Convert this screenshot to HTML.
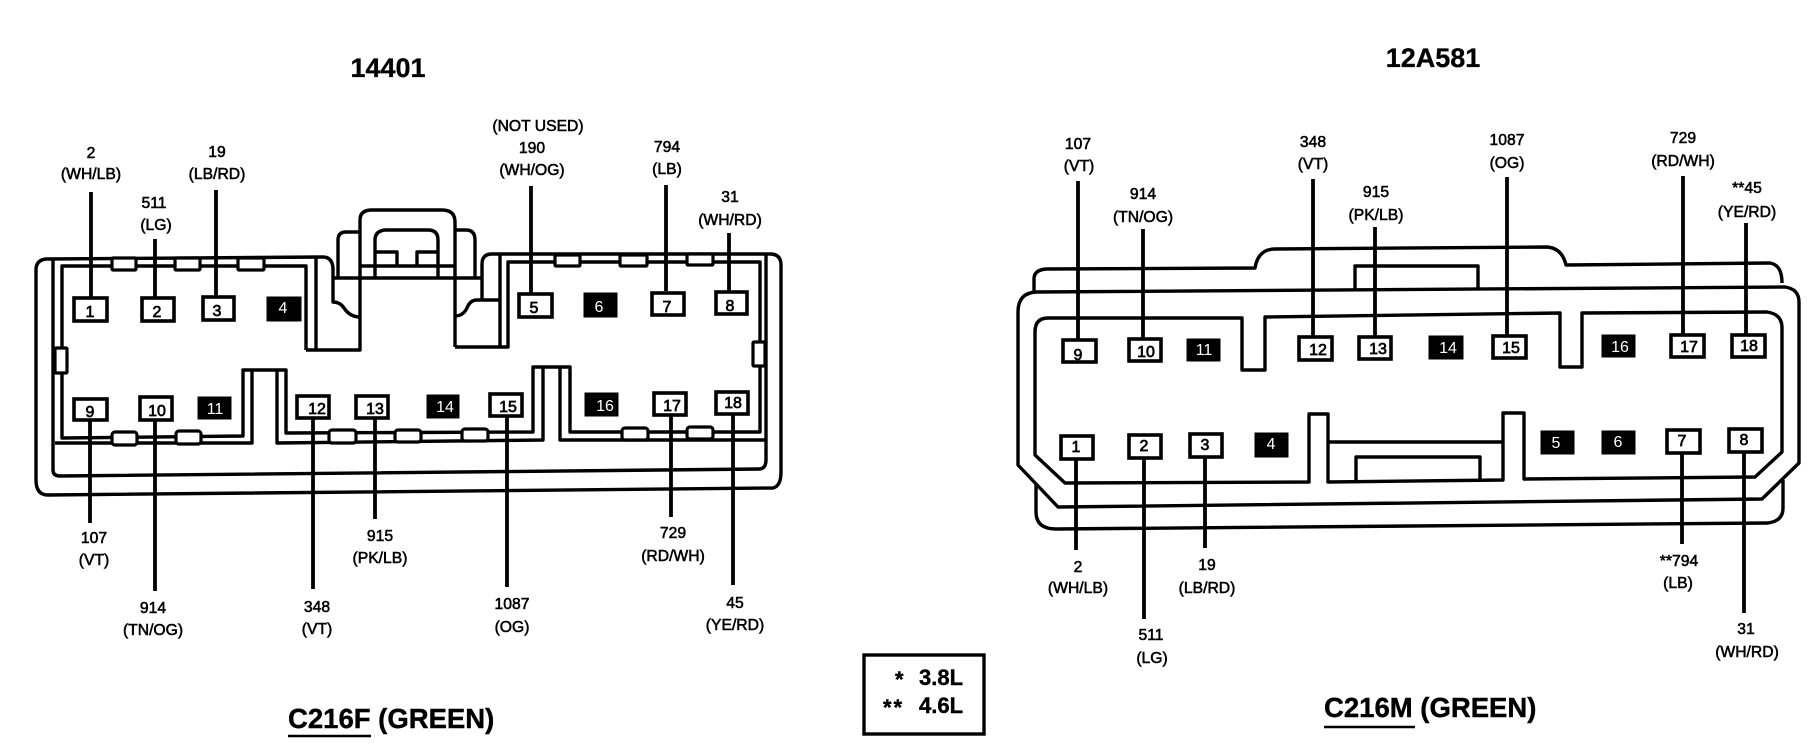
<!DOCTYPE html>
<html><head><meta charset="utf-8"><title>C216 connectors</title>
<style>
html,body{margin:0;padding:0;background:#fff}
svg{display:block}
text{font-family:"Liberation Sans",sans-serif;fill:#000;text-anchor:middle}
.l{font-size:15.7px;stroke:#000;stroke-width:.55px}
.p{font-size:16px;stroke:#000;stroke-width:.7px}
.w{font-size:16px;fill:#fff}
.t{font-weight:bold;font-size:27px;stroke:#000;stroke-width:.3px}
.h{font-weight:bold;font-size:27.5px;text-anchor:start;stroke:#000;stroke-width:.4px}
.g{font-weight:bold;font-size:22px;text-anchor:start;stroke:#000;stroke-width:.4px}
.c{fill:none;stroke:#000;stroke-width:3.4;stroke-linejoin:round}
.wire{stroke:#000;stroke-width:3.8;fill:none}
.b{fill:#fff;stroke:#000;stroke-width:3.6}
.k{fill:#000;stroke:#000;stroke-width:1}
.tab{fill:#fff;stroke:#000;stroke-width:3.2}
</style></head><body>
<svg width="1814" height="752" viewBox="0 0 1814 752" xmlns="http://www.w3.org/2000/svg">
<rect width="1814" height="752" fill="#fff"/>

<!-- LEFT CONNECTOR -->
<g class="c">
<path d="M36,480 V270 Q36,260 46,259 L323,257 Q332,257 333,268 V302 Q340,302 344,308 Q350,317 360,317"/>
<path d="M36,480 Q36,495 48,495 L773,488 Q781,486 781,472 V265 Q781,254 770,254 H492 Q482,254 482,264 V300 H500 M482,300 H477 Q470,300 467,308 Q463,316 455,316"/>
<path d="M53,260 V470 Q53,476 60,476 L760,469 Q766,468 766,460 V255"/>
<path d="M316,257 V350 M306,350 V266 H62 V438 L243,436 V370 H286 V433 L533,432 V367 H570 V432 L760,432 V262 H508 V347 H455"/>
<path d="M306,350 H360 V220 Q360,210 372,210 H442 Q455,210 455,222 V347 M500,255 V347"/>
<path d="M55,443 H252 V370 M277,370 V443 L543,440 V367 M560,367 V440 L766,440"/>
<path d="M338,278 V240 Q338,232 346,232 H360 M455,230 H466 Q475,230 475,240 V278 M333,278 H375 M438,278 H482 M375,278 H438" />
<path d="M375,278 V240 Q375,231 385,230 H428 Q438,230 438,240 V278"/>
<path d="M360,266 H455 M375,252 H397 V266 M417,266 V252 H438"/>
</g>
<g class="tab">
<rect x="112" y="258" width="24" height="12" rx="1"/>
<rect x="175" y="258" width="25" height="12" rx="1"/>
<rect x="238" y="258" width="26" height="12" rx="1"/>
<rect x="555" y="255" width="25" height="11" rx="1"/>
<rect x="620" y="255" width="27" height="11" rx="1"/>
<rect x="687" y="254" width="26" height="11" rx="1"/>
<rect x="55" y="348" width="12" height="25" rx="1"/>
<rect x="753" y="342" width="12" height="24" rx="1"/>
<rect x="112" y="432" width="25" height="13" rx="3"/>
<rect x="176" y="431" width="25" height="13" rx="3"/>
<rect x="329" y="430" width="27" height="13" rx="3"/>
<rect x="395" y="430" width="26" height="12" rx="3"/>
<rect x="462" y="429" width="26" height="12" rx="3"/>
<rect x="622" y="428" width="26" height="12" rx="3"/>
<rect x="687" y="427" width="26" height="12" rx="3"/>
</g>

<g class="wire">
<path d="M91,192 V297 M155,239 V297 M216,190 V297 M531,186 V293 M666,185 V291 M729,233 V291"/>
<path d="M90,420 V523 M155,420 V591 M313,418 V589 M375,418 V519 M507,416 V587 M671,415 V517 M733,414 V585"/>
</g>

<rect class="b" x="74" y="298" width="33" height="23"/><text class="p" x="90" y="317">1</text>
<rect class="b" x="142" y="298" width="32" height="23"/><text class="p" x="157" y="317">2</text>
<rect class="b" x="203" y="297" width="31" height="23"/><text class="p" x="217" y="316">3</text>
<rect class="k" x="267" y="297" width="34" height="24"/><text class="w" x="283" y="313">4</text>
<rect class="b" x="519" y="294" width="33" height="23"/><text class="p" x="534" y="313">5</text>
<rect class="k" x="584" y="293" width="33" height="24"/><text class="w" x="599" y="312">6</text>
<rect class="b" x="652" y="293" width="32" height="22"/><text class="p" x="667" y="312">7</text>
<rect class="b" x="716" y="292" width="31" height="22"/><text class="p" x="730" y="311">8</text>
<rect class="b" x="74" y="399" width="33" height="21"/><text class="p" x="90" y="417">9</text>
<rect class="b" x="140" y="397" width="32" height="23"/><text class="p" x="157" y="416">10</text>
<rect class="k" x="198" y="397" width="33" height="22"/><text class="w" x="215" y="414">11</text>
<rect class="b" x="297" y="396" width="32" height="22"/><text class="p" x="317" y="414">12</text>
<rect class="b" x="356" y="396" width="32" height="22"/><text class="p" x="375" y="414">13</text>
<rect class="k" x="427" y="395" width="32" height="23"/><text class="w" x="445" y="412">14</text>
<rect class="b" x="490" y="394" width="32" height="22"/><text class="p" x="508" y="412">15</text>
<rect class="k" x="585" y="393" width="33" height="23"/><text class="w" x="605" y="411">16</text>
<rect class="b" x="654" y="393" width="32" height="22"/><text class="p" x="672" y="411">17</text>
<rect class="b" x="716" y="392" width="32" height="22"/><text class="p" x="733" y="408">18</text>

<g class="l">
<text x="91" y="158">2</text><text x="91" y="179">(WH/LB)</text>
<text x="217" y="157">19</text><text x="217" y="179">(LB/RD)</text>
<text x="154" y="208">511</text><text x="156" y="230">(LG)</text>
<text x="538" y="131">(NOT USED)</text><text x="532" y="153">190</text><text x="532" y="175">(WH/OG)</text>
<text x="667" y="152">794</text><text x="667" y="174">(LB)</text>
<text x="730" y="202">31</text><text x="730" y="225">(WH/RD)</text>
<text x="94" y="543">107</text><text x="94" y="565">(VT)</text>
<text x="153" y="613">914</text><text x="153" y="635">(TN/OG)</text>
<text x="317" y="612">348</text><text x="317" y="634">(VT)</text>
<text x="380" y="541">915</text><text x="380" y="563">(PK/LB)</text>
<text x="512" y="609">1087</text><text x="512" y="632">(OG)</text>
<text x="673" y="538">729</text><text x="673" y="561">(RD/WH)</text>
<text x="735" y="608">45</text><text x="735" y="630">(YE/RD)</text>
</g>

<text class="t" x="388" y="77">14401</text>
<text class="h" x="288" y="728">C216F (GREEN)</text>
<path d="M288,736 H371" stroke="#000" stroke-width="2.6"/>

<!-- LEGEND -->
<rect x="864" y="655" width="120" height="79" fill="none" stroke="#000" stroke-width="3.4"/>
<text class="g" x="919" y="685">3.8L</text>
<text class="g" x="919" y="713">4.6L</text>
<text class="g" x="895" y="687">*</text>
<text class="g" x="883" y="715" style="letter-spacing:2px">**</text>

<!-- RIGHT CONNECTOR -->
<g class="c">
<path d="M1034,292 V279 Q1034,270 1046,269 L1255,268 Q1258,249 1275,249 L1547,247 Q1562,248 1566,265 L1770,263 Q1782,265 1782,283"/>
<path d="M1058,507 L1018,465 V312 Q1018,293 1036,292 L1785,287 Q1799,289 1799,302 V463 L1762,499 Z"/>
<path d="M1035,455 V332 Q1035,318 1048,318 H1242 V370 H1265 V317 L1560,313 V367 H1582 V313 L1767,312 Q1782,314 1782,328 V452 L1755,477 L1524,479 V413 H1503 V480 L1328,482 V414 H1309 V482 L1065,483 Z"/>
<path d="M1036,483 V512 Q1036,529 1056,529 L1768,523 Q1783,521 1783,508 V480"/>
<path d="M1355,291 V266 H1478 V290"/>
<path d="M1328,442 H1503 M1356,480 V457 H1480 V480"/>
</g>
<g class="wire">
<path d="M1078,181 V339 M1143,229 V338 M1313,179 V336 M1375,227 V336 M1507,177 V335 M1683,176 V334 M1746,223 V334"/>
<path d="M1076,459 V550 M1144,458 V619 M1205,457 V548 M1682,453 V544 M1744,452 V613"/>
</g>

<rect class="b" x="1063" y="340" width="33" height="22"/><text class="p" x="1078" y="360">9</text>
<rect class="b" x="1129" y="339" width="32" height="22"/><text class="p" x="1146" y="357">10</text>
<rect class="k" x="1187" y="339" width="33" height="22"/><text class="w" x="1204" y="355">11</text>
<rect class="b" x="1299" y="337" width="33" height="23"/><text class="p" x="1318" y="355">12</text>
<rect class="b" x="1359" y="337" width="32" height="22"/><text class="p" x="1378" y="354">13</text>
<rect class="k" x="1429" y="336" width="34" height="23"/><text class="w" x="1448" y="353">14</text>
<rect class="b" x="1493" y="336" width="33" height="22"/><text class="p" x="1511" y="353">15</text>
<rect class="k" x="1602" y="335" width="33" height="22"/><text class="w" x="1620" y="352">16</text>
<rect class="b" x="1671" y="335" width="33" height="22"/><text class="p" x="1689" y="352">17</text>
<rect class="b" x="1732" y="335" width="33" height="22"/><text class="p" x="1749" y="351">18</text>
<rect class="b" x="1061" y="436" width="32" height="23"/><text class="p" x="1076" y="452">1</text>
<rect class="b" x="1129" y="435" width="32" height="23"/><text class="p" x="1144" y="451">2</text>
<rect class="b" x="1190" y="434" width="32" height="23"/><text class="p" x="1205" y="450">3</text>
<rect class="k" x="1255" y="433" width="33" height="24"/><text class="w" x="1271" y="449">4</text>
<rect class="k" x="1541" y="431" width="33" height="23"/><text class="w" x="1556" y="448">5</text>
<rect class="k" x="1602" y="431" width="33" height="23"/><text class="w" x="1618" y="447">6</text>
<rect class="b" x="1667" y="430" width="33" height="23"/><text class="p" x="1682" y="446">7</text>
<rect class="b" x="1729" y="429" width="33" height="23"/><text class="p" x="1744" y="445">8</text>

<g class="l">
<text x="1078" y="149">107</text><text x="1079" y="171">(VT)</text>
<text x="1143" y="199">914</text><text x="1143" y="222">(TN/OG)</text>
<text x="1313" y="147">348</text><text x="1313" y="169">(VT)</text>
<text x="1376" y="197">915</text><text x="1376" y="220">(PK/LB)</text>
<text x="1507" y="145">1087</text><text x="1507" y="168">(OG)</text>
<text x="1683" y="143">729</text><text x="1683" y="166">(RD/WH)</text>
<text x="1747" y="193">**45</text><text x="1747" y="217">(YE/RD)</text>
<text x="1078" y="572">2</text><text x="1078" y="593">(WH/LB)</text>
<text x="1207" y="570">19</text><text x="1207" y="593">(LB/RD)</text>
<text x="1151" y="640">511</text><text x="1152" y="663">(LG)</text>
<text x="1679" y="566">**794</text><text x="1678" y="588">(LB)</text>
<text x="1746" y="634">31</text><text x="1747" y="657">(WH/RD)</text>
</g>

<text class="t" x="1433" y="67" style="font-size:27px">12A581</text>
<text class="h" x="1324" y="717">C216M (GREEN)</text>
<path d="M1324,727 H1415" stroke="#000" stroke-width="2.6"/>
</svg>
</body></html>
